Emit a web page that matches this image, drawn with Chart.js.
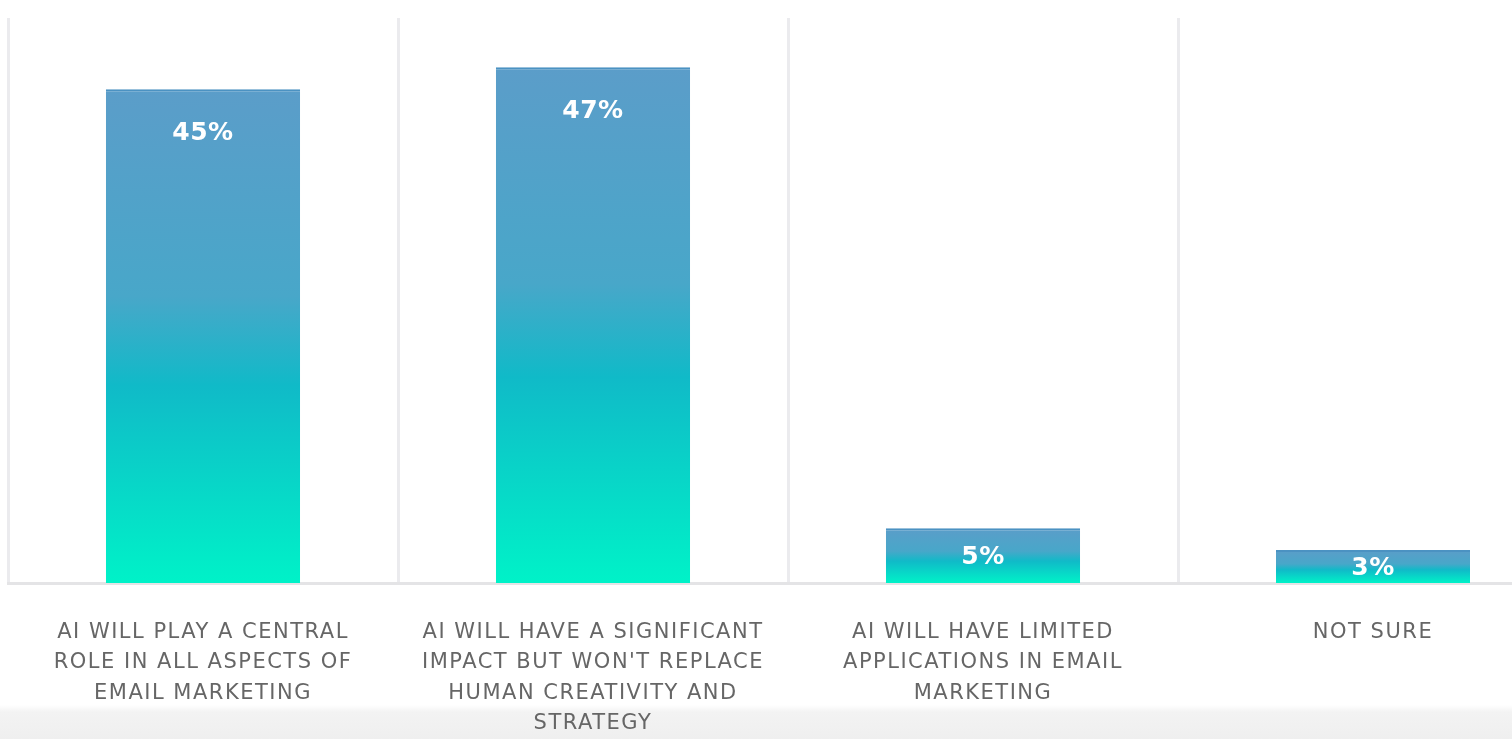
<!DOCTYPE html>
<html>
<head>
<meta charset="utf-8">
<script src="https://cdn.jsdelivr.net/npm/chart.js@4.4.1/dist/chart.umd.min.js"></script>
<style>
  html, body { margin: 0; padding: 0; overflow: hidden; width: 1512px; height: 739px; }
  body { background: linear-gradient(to bottom, #ffffff 0px, #ffffff 705px, #f3f3f3 712px, #efefef 739px); }
  #wrap { position: absolute; left: 0; top: 0; width: 1568px; height: 739px; }
</style>
</head>
<body>
<div id="wrap"><canvas id="c"></canvas></div>
<script>
const categories = [
  ["AI WILL PLAY A CENTRAL", "ROLE IN ALL ASPECTS OF", "EMAIL MARKETING"],
  ["AI WILL HAVE A SIGNIFICANT", "IMPACT BUT WON'T REPLACE", "HUMAN CREATIVITY AND", "STRATEGY"],
  ["AI WILL HAVE LIMITED", "APPLICATIONS IN EMAIL", "MARKETING"],
  ["NOT SURE"]
];
const shares = [45, 47, 5, 3];
const valueLabels = ["45%", "47%", "5%", "3%"];

function barGradient(c) {
  const chart = c.chart;
  const ys = chart.scales && chart.scales.y;
  if (!ys || !chart.chartArea || c.raw === undefined) return '#2bb6c8';
  const top = ys.getPixelForValue(c.raw);
  const base = ys.getPixelForValue(0);
  const g = chart.ctx.createLinearGradient(0, top, 0, base);
  g.addColorStop(0, '#5b9dc9');
  g.addColorStop(0.42, '#48a7c9');
  g.addColorStop(0.6, '#10bac8');
  g.addColorStop(1, '#00f2c8');
  return g;
}

const spacingPlugin = {
  id: 'spacing',
  beforeDraw(chart) { chart.ctx.letterSpacing = '1.5px'; }
};

const valueLabelPlugin = {
  id: 'valueLabels',
  afterDatasetsDraw(chart) {
    const ctx = chart.ctx;
    const meta = chart.getDatasetMeta(0);
    ctx.save();
    ctx.letterSpacing = '0.5px';
    ctx.fillStyle = '#ffffff';
    ctx.font = 'bold 25px "DejaVu Sans"';
    ctx.textAlign = 'center';
    ctx.textBaseline = 'middle';
    meta.data.forEach((bar, i) => {
      const top = bar.y, base = bar.base;
      const y = Math.min(top + 44, (top + base) / 2 + 2);
      ctx.fillText(valueLabels[i], bar.x, y);
    });
    ctx.restore();
  }
};

new Chart(document.getElementById('c'), {
  type: 'bar',
  data: {
    labels: categories,
    datasets: [{
      data: shares,
      backgroundColor: barGradient,
      borderColor: '#4b92c2',
      borderWidth: { top: 2, left: 0, right: 0, bottom: 0 },
      borderSkipped: false,
      barPercentage: 0.498,
      categoryPercentage: 1
    }]
  },
  options: {
    responsive: true,
    maintainAspectRatio: false,
    animation: false,
    layout: { padding: { left: 8, right: 0, top: 18, bottom: 0 } },
    plugins: { legend: { display: false }, tooltip: { enabled: false } },
    scales: {
      x: {
        afterFit(scale) { scale.height = 156; },
        grid: { display: true, offset: true, color: '#ebebee', lineWidth: 3, drawTicks: false },
        border: { display: true, color: '#e4e4e6', width: 3 },
        ticks: {
          color: '#666666',
          padding: 34,
          maxRotation: 0,
          autoSkip: false,
          font: { family: '"DejaVu Sans"', size: 21, lineHeight: 1.45 }
        }
      },
      y: {
        display: false,
        min: 0,
        max: 51.5,
        grid: { display: false }
      }
    }
  },
  plugins: [spacingPlugin, valueLabelPlugin]
});
</script>
</body>
</html>
